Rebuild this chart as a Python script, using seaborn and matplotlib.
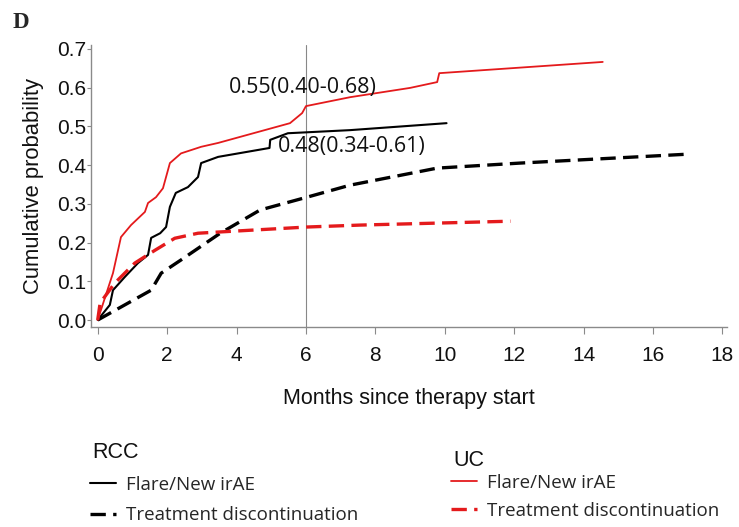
import matplotlib
matplotlib.use("Agg")
import matplotlib.pyplot as plt
import seaborn as sns
import pandas as pd

# ---------------- data ----------------
rcc_flare_months = [0, 0.35, 0.44, 0.78, 1.16, 1.45, 1.54, 1.8, 1.97, 2.08, 2.25, 2.6,
                    2.89, 2.98, 3.47, 4.95, 4.97, 5.48, 7.27, 10.05]
rcc_flare_prob = [0, 0.039, 0.077, 0.111, 0.147, 0.168, 0.212, 0.224, 0.24, 0.292, 0.328,
                  0.343, 0.369, 0.405, 0.421, 0.444, 0.465, 0.482, 0.49, 0.508]

uc_flare_months = [0, 0.44, 0.67, 0.96, 1.36, 1.45, 1.68, 1.88, 2.08, 2.4, 2.98, 3.47,
                   5.54, 5.89, 6.0, 7.27, 9.0, 9.78, 9.84, 14.55]
uc_flare_prob = [0, 0.121, 0.214, 0.245, 0.279, 0.302, 0.317, 0.34, 0.405, 0.43, 0.447,
                 0.457, 0.508, 0.534, 0.552, 0.575, 0.599, 0.614, 0.637, 0.666]

uc_disc_months = [0, 0.07, 0.49, 1.07, 1.65, 2.22, 2.89, 3.47, 6.03, 7.56, 11.89]
uc_disc_prob = [0, 0.044, 0.095, 0.147, 0.18, 0.211, 0.224, 0.227, 0.24, 0.245, 0.255]

rcc_disc_months = [0, 1.54, 1.83, 2.4, 3.53, 4.68, 6.03, 7.27, 9.78, 12.17, 17.0]
rcc_disc_prob = [0, 0.077, 0.121, 0.155, 0.224, 0.284, 0.317, 0.348, 0.392, 0.405, 0.428]

x_ticks = [0, 2, 4, 6, 8, 10, 12, 14, 16, 18]
y_ticks = [0.0, 0.1, 0.2, 0.3, 0.4, 0.5, 0.6, 0.7]

uc_label = "0.55(0.40-0.68)"
rcc_label = "0.48(0.34-0.61)"
uc_label_pos = (3.78, 0.601)
rcc_label_pos = (5.2, 0.447)
landmark_month = 6
legend_labels = ["Flare/New irAE", "Treatment discontinuation"]

# ---------------- style ----------------
sns.set_theme(style="white")
plt.rcParams["font.family"] = ["Liberation Sans", "DejaVu Sans"]

fig = plt.figure(figsize=(7.39, 5.27), dpi=100)
ax = fig.add_axes([91 / 739, 1 - 327 / 527, (727 - 91) / 739, (327 - 45) / 527])

RED = "#e41a1c"
BLACK = "#000000"
dash = (0, (4.6, 2.2))

sns.lineplot(x=rcc_flare_months, y=rcc_flare_prob, ax=ax, color=BLACK, lw=1.5,
             estimator=None)
sns.lineplot(x=rcc_disc_months, y=rcc_disc_prob, ax=ax, color=BLACK, lw=2.4,
             linestyle=dash, estimator=None)
sns.lineplot(x=uc_flare_months, y=uc_flare_prob, ax=ax, color=RED, lw=1.3,
             estimator=None)
sns.lineplot(x=uc_disc_months, y=uc_disc_prob, ax=ax, color=RED, lw=2.4,
             linestyle=dash, estimator=None)

lines = ax.get_lines()
h_rcc_flare, h_rcc_disc, h_uc_flare, h_uc_disc = lines[0], lines[1], lines[2], lines[3]

ax.axvline(landmark_month, color="#888888", lw=0.8, zorder=0)

ax.set_xlim(-0.193, 18.13)
ax.set_ylim(-0.018, 0.7097)
ax.set_xticks(x_ticks)
ax.set_yticks(y_ticks)
ax.set_xticklabels([str(t) for t in x_ticks])
ax.set_yticklabels([f"{t:.1f}" for t in y_ticks])

for s in ["top", "right"]:
    ax.spines[s].set_visible(False)
for s in ["left", "bottom"]:
    ax.spines[s].set_color("#8a8a8a")
    ax.spines[s].set_linewidth(1.0)

ax.tick_params(axis="x", which="major", bottom=True, length=5, width=0.8,
               color="#8a8a8a", direction="out", pad=9, labelsize=15, labelcolor="#111111")
ax.tick_params(axis="y", which="major", left=True, length=3, width=0.8,
               color="#8a8a8a", direction="out", pad=0.5, labelsize=15, labelcolor="#111111")

ax.set_xlabel("Months since therapy start", fontsize=15.5, labelpad=16, color="#111111")
ax.set_ylabel("Cumulative probability", fontsize=15.8, labelpad=9, color="#111111")

ann_font = ["Open Sans", "DejaVu Sans"]
ax.text(uc_label_pos[0], uc_label_pos[1], uc_label, fontsize=15.5, family=ann_font,
        ha="left", va="center", color="#111111")
ax.text(rcc_label_pos[0], rcc_label_pos[1], rcc_label, fontsize=15.5, family=ann_font,
        ha="left", va="center", color="#111111")

fig.text(13 / 739, 1 - 22 / 527, "D", fontsize=16.5, fontweight="bold",
         family=["Liberation Serif", "DejaVu Serif"], ha="left", va="center")

# ---------------- legends ----------------
LEG_SIZE = 13.5
leg_font = {"family": ["Open Sans", "DejaVu Sans"], "size": LEG_SIZE}

def make_legend(handles, title, title_xy, x_px, y_px, spacing):
    fig.text(title_xy[0] / 739, 1 - title_xy[1] / 527, title, fontsize=15.5,
             family=["Liberation Sans", "DejaVu Sans"], ha="left", va="center",
             color="#111111")
    leg = fig.legend(handles=handles, labels=legend_labels, loc="upper left",
                     bbox_to_anchor=(x_px / 739, 1 - y_px / 527),
                     bbox_transform=fig.transFigure,
                     frameon=False, prop=leg_font, handlelength=1.4, handletextpad=0.5,
                     labelspacing=spacing, borderpad=0, borderaxespad=0)
    return leg

leg1 = make_legend([h_rcc_flare, h_rcc_disc], "RCC", (92, 453), 90, 475.5, 0.67)
leg2 = make_legend([h_uc_flare, h_uc_disc], "UC", (453, 460), 451, 473.5, 0.56)

fig.savefig("out.png", dpi=100)
